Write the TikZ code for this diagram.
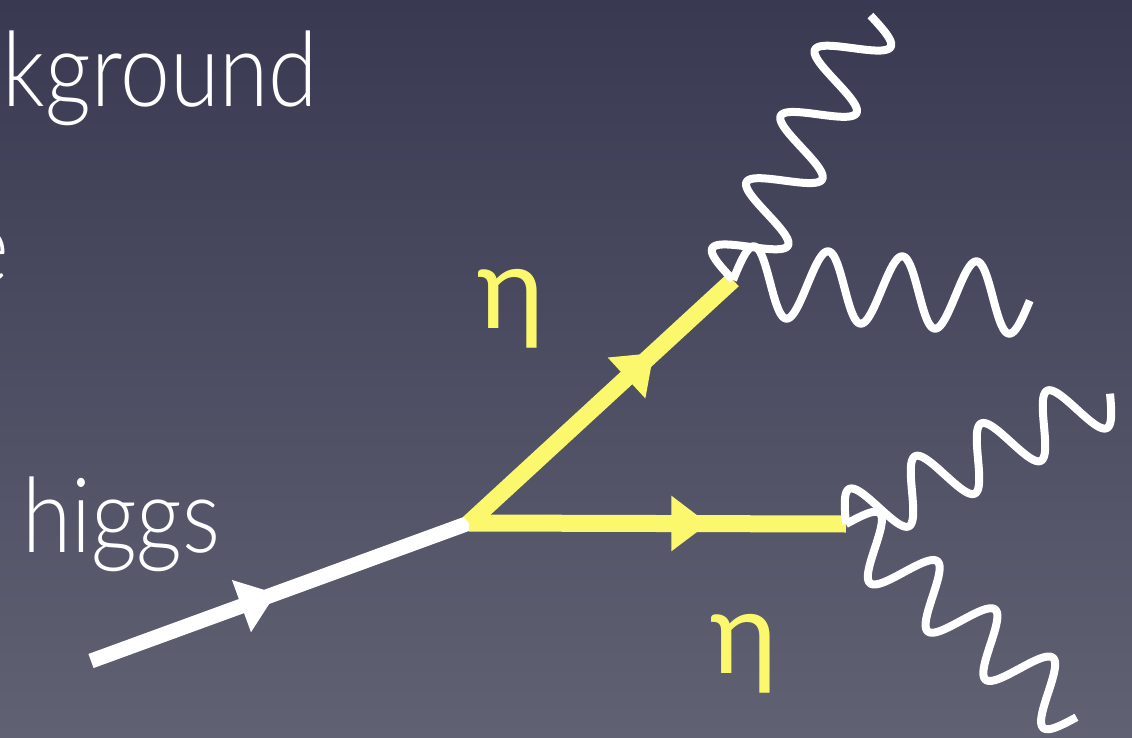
\documentclass[tikz,border=0pt]{standalone}
\usepackage{fontspec}
\setmainfont{Lato}
\newfontfamily\gillish{Lato Light}[FakeStretch=0.86]
\usetikzlibrary{arrows.meta,decorations.markings,calc}
\definecolor{bgtop}{RGB}{57,58,82}
\definecolor{bgbot}{RGB}{96,97,114}
\definecolor{etay}{RGB}{252,248,110}
\newcommand\drawphoton[3]{%
  \path let \p1=($(#2)-(#1)$), \n1={atan2(\y1,\x1)}, \n2={veclen(\x1,\y1)} in
    \pgfextra{\xdef\phang{\n1}\xdef\phlen{\n2}};
  \begin{scope}[shift={(#1)}, rotate=\phang]
    \draw[photonline] plot[variable=\t, domain=0:1, samples=240, smooth]
      ({\t*\phlen*1pt}, {#3*sin(4*360*\t)});
  \end{scope}
}
\begin{document}
\begin{tikzpicture}[x=1pt,y=-1pt,
  txt/.style={text=white, font=\gillish\fontsize{104}{110}\selectfont, inner sep=0pt},
  etalbl/.style={text=etay, font=\fontsize{115}{120}\selectfont, inner sep=0pt},
  arrowat/.style={postaction={decorate, decoration={markings,
      mark=at position #1 with {\arrow{Triangle[length=37pt,width=53pt]}}}}},
  higgsline/.style={draw=white, line width=15pt, line cap=butt},
  etaline/.style={draw=etay, line width=17pt, line cap=butt},
  photonline/.style={draw=white, line width=8pt, line cap=butt, line join=round}
]
\useasboundingbox (0,0) rectangle (1132,738);
\shade[top color=bgtop, bottom color=bgbot] (0,0) rectangle (1132,738);

% texts
\node[txt, anchor=base east] (bgword) at (318,107) {background};
\node[txt, anchor=base east] (eword) at (9,282) {e};
\node[txt, anchor=base west] (higgs) at (22,552) {higgs};
\node[etalbl, anchor=base west] (eta1) at (477,328) {η};
\node[etalbl, anchor=base west] (eta2) at (710,673) {η};

% vertices
\coordinate (hin) at (91,661);
\coordinate (v) at (469,523);
\coordinate (e1) at (733,280);
\coordinate (e2) at (846,524);
\coordinate (p1) at (870,15);
\coordinate (p2) at (1030,300);
\coordinate (p3) at (1110,393);
\coordinate (p4) at (1077,717);

% higgs line
\draw[higgsline, arrowat=0.49] (hin) -- (v);
% eta lines
\draw[etaline, arrowat=0.70] (v) -- (e1);
\draw[etaline, arrowat=0.635] (v) -- (e2);
% photons
\drawphoton{e1}{p1}{33pt}
\drawphoton{e1}{p2}{35pt}
\drawphoton{e2}{p3}{30pt}
\drawphoton{e2}{p4}{30pt}
\end{tikzpicture}
\end{document}
